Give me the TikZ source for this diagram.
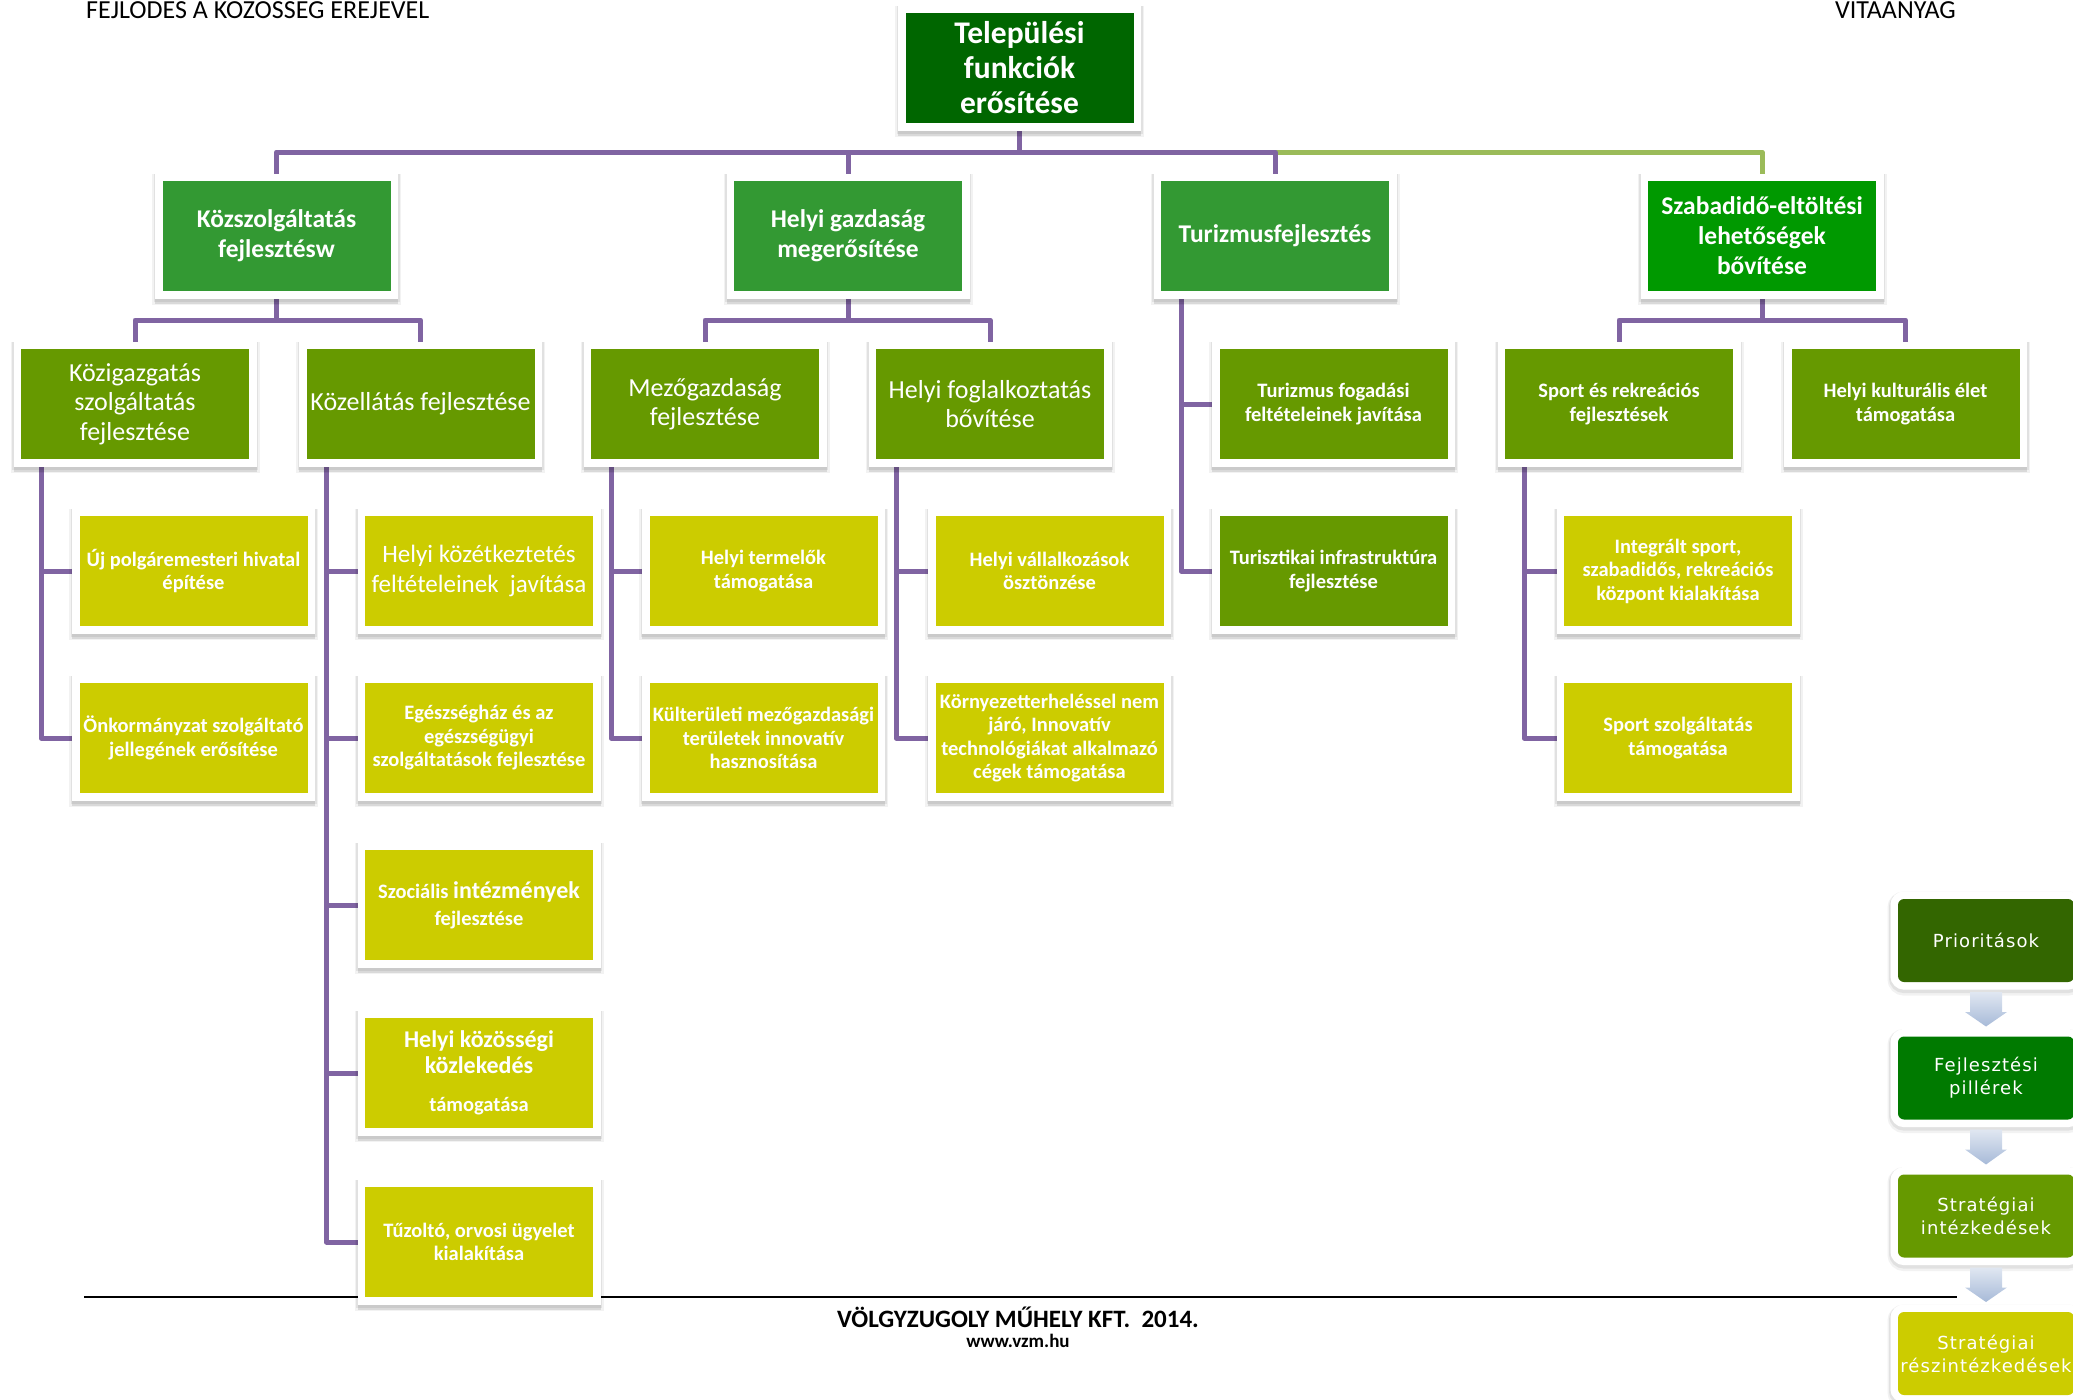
\documentclass[tikz,border=0pt]{standalone}
\usepackage{fontspec}
\setmainfont{Carlito}
\newfontfamily\legfont[LetterSpace=6]{DejaVu Sans}
\usetikzlibrary{backgrounds,calc}
\definecolor{topgreen}{HTML}{006600}
\definecolor{lvlone}{HTML}{339933}
\definecolor{lvloneb}{HTML}{009900}
\definecolor{lvltwo}{HTML}{669900}
\definecolor{lvlthree}{HTML}{CCCC00}
\definecolor{connpurple}{HTML}{8064A2}
\definecolor{conngreen}{HTML}{9BBB59}
\definecolor{legdark}{HTML}{336600}
\definecolor{legpillar}{HTML}{007A00}
\definecolor{arrowblue}{HTML}{A7BAD8}
\begin{document}
\begin{tikzpicture}[x=1pt,y=-1pt,
  card/.style={rectangle, minimum width=228pt, minimum height=110pt, inner sep=0pt, outer sep=0pt,
    text=white, align=center,
    preaction={draw=black, draw opacity=0.05, line width=21pt, transform canvas={yshift=-3pt}},
    preaction={draw=black, draw opacity=0.07, line width=18pt, transform canvas={yshift=-2pt}},
    preaction={draw=black, draw opacity=0.10, line width=15pt, transform canvas={yshift=-5pt}},
    preaction={draw=white, line width=15pt}},
  legbox/.style={rectangle, rounded corners=6pt, minimum width=176pt, minimum height=83pt, inner sep=0pt,
    outer sep=0pt, text=white, align=center, font=\legfont\fontsize{18}{23}\selectfont,
    preaction={draw=black, draw opacity=0.05, line width=21pt, transform canvas={yshift=-3pt}},
    preaction={draw=black, draw opacity=0.07, line width=18pt, transform canvas={yshift=-2pt}},
    preaction={draw=white, line width=15pt}},
  titlefont/.style={font=\fontsize{31.5}{35}\selectfont\bfseries},
  lonefont/.style={font=\fontsize{25.5}{30}\selectfont\bfseries},
  ltwofont/.style={font=\fontsize{26}{29.5}\selectfont},
  smallbold/.style={font=\fontsize{20.5}{23.5}\selectfont\bfseries},
  conn/.style={draw=connpurple, line width=5pt, line join=round},
  conng/.style={draw=conngreen, line width=5pt, line join=round},
  arrowfill/.style={top color=arrowblue!35!white, bottom color=arrowblue}
]
\useasboundingbox (0,0) rectangle (2073,1400);
\clip (0,0) rectangle (2073,1400);

% header / footer texts
\node[anchor=base west, inner sep=0pt, font=\fontsize{26}{30}\selectfont] (hdrl) at (86,18) {FEJLODES A KOZOSSEG EREJEVEL};
\node[anchor=base east, inner sep=0pt, font=\fontsize{26}{30}\selectfont] (hdrr) at (1956,18) {VITAANYAG};
\node[anchor=base, inner sep=0pt, font=\fontsize{25}{30}\selectfont\bfseries] (ftr) at (1018,1327) {VÖLGYZUGOLY MŰHELY KFT.~~2014.};
\node[anchor=base, inner sep=0pt, font=\fontsize{19}{22}\selectfont\bfseries] (web) at (1018,1347) {www.vzm.hu};

% top
\node[card, fill=topgreen, titlefont] (top) at (1019.5,68) {Települési\\funkciók\\erősítése};

% level 1
\node[card, fill=lvlone, lonefont] (kozsz) at (276.5,236) {Közszolgáltatás\\fejlesztésw};
\node[card, fill=lvlone, lonefont] (hgazd) at (848,236) {Helyi gazdaság\\megerősítése};
\node[card, fill=lvlone, lonefont] (tur) at (1275,236) {Turizmusfejlesztés};
\node[card, fill=lvloneb, lonefont] (szab) at (1762,236) {Szabadidő-eltöltési\\lehetőségek\\bővítése};

% level 2
\node[card, fill=lvltwo, ltwofont] (kozig) at (135,404) {Közigazgatás\\szolgáltatás\\fejlesztése};
\node[card, fill=lvltwo, ltwofont] (kozell) at (420.5,404) {Közellátás fejlesztése};
\node[card, fill=lvltwo, ltwofont] (mezo) at (705,404) {Mezőgazdaság\\fejlesztése};
\node[card, fill=lvltwo, ltwofont] (foglalk) at (990,404) {Helyi foglalkoztatás\\bővítése};
\node[card, fill=lvltwo, smallbold] (turfog) at (1333.5,404) {Turizmus fogadási\\feltételeinek javítása};
\node[card, fill=lvltwo, smallbold] (sport) at (1619,404) {Sport és rekreációs\\fejlesztések};
\node[card, fill=lvltwo, smallbold] (kult) at (1905.5,404) {Helyi kulturális élet\\támogatása};

% level 3
\node[card, fill=lvlthree, smallbold] (uj) at (193.5,571) {Új polgáremesteri hivatal\\építése};
\node[card, fill=lvlthree, smallbold] (onk) at (193.5,738) {Önkormányzat szolgáltató\\jellegének erősítése};
\node[card, fill=lvlthree, font=\fontsize{25}{30}\selectfont] (kozetk) at (479,571) {Helyi közétkeztetés\\feltételeinek~~javítása};
\node[card, fill=lvlthree, smallbold] (egesz) at (479,738) {Egészségház és az\\egészségügyi\\szolgáltatások fejlesztése};
\node[card, fill=lvlthree, font=\fontsize{20.5}{27}\selectfont\bfseries] (szoc) at (479,905) {Szociális {\fontsize{24}{27}\selectfont intézmények}\\fejlesztése};
\node[card, fill=lvlthree, font=\fontsize{24}{26}\selectfont\bfseries] (kozoss) at (479,1073) {Helyi közösségi\\közlekedés\\[12pt]{\fontsize{20.5}{26}\selectfont támogatása}};
\node[card, fill=lvlthree, smallbold] (tuzolto) at (479,1242) {Tűzoltó, orvosi ügyelet\\kialakítása};
\node[card, fill=lvlthree, smallbold] (termel) at (763.5,571) {Helyi termelők\\támogatása};
\node[card, fill=lvlthree, smallbold] (kulter) at (763.5,738) {Külterületi mezőgazdasági\\területek innovatív\\hasznosítása};
\node[card, fill=lvlthree, smallbold] (vallalk) at (1049.5,571) {Helyi vállalkozások\\ösztönzése};
\node[card, fill=lvlthree, smallbold] (kornyezet) at (1049.5,738) {Környezetterheléssel nem\\járó, Innovatív\\technológiákat alkalmazó\\cégek támogatása};
\node[card, fill=lvltwo, smallbold] (turinf) at (1333.5,571) {Turisztikai infrastruktúra\\fejlesztése};
\node[card, fill=lvlthree, smallbold] (integ) at (1678,571) {Integrált sport,\\szabadidős, rekreációs\\központ kialakítása};
\node[card, fill=lvlthree, smallbold] (sportsz) at (1678,738) {Sport szolgáltatás\\támogatása};

% legend
\node[legbox, fill=legdark] (leg1) at (1986,940.5) {Prioritások};
\node[legbox, fill=legpillar] (leg2) at (1986,1078) {Fejlesztési\\pillérek};
\node[legbox, fill=lvltwo] (leg3) at (1986,1216) {Stratégiai\\intézkedések};
\node[legbox, fill=lvlthree] (leg4) at (1986,1353.5) {Stratégiai\\részintézkedések};
\foreach \a/\b in {leg1/leg2, leg2/leg3, leg3/leg4}{
  \shade[arrowfill] ($(\a.south)+(-16,10)$) -- ($(\a.south)+(16,10)$) -- ($(\a.south)+(16,30)$)
    -- ($(\a.south)+(21,30)$) -- ($(\b.north)+(0,-10)$) -- ($(\a.south)+(-21,30)$)
    -- ($(\a.south)+(-16,30)$) -- cycle;
}

\begin{pgfonlayer}{background}
  \coordinate (bartop) at (0,152);
  \coordinate (barA) at (0,320);
  % footer rule
  \draw[line width=2pt] (84,1297) -- (1957,1297);
  % level 1
  \draw[conng] (tur.north |- bartop) -| (szab.north);
  \draw[conn] (top.south) -- (top.south |- bartop);
  \draw[conn] (kozsz.north) |- (tur.north |- bartop) -- (tur.north);
  \draw[conn] (hgazd.north) -- (hgazd.north |- bartop);
  % level 2
  \draw[conn] (kozsz.south) -- (kozsz.south |- barA);
  \draw[conn] (kozig.north) |- (barA -| kozell.north) -- (kozell.north);
  \draw[conn] (hgazd.south) -- (hgazd.south |- barA);
  \draw[conn] (mezo.north) |- (barA -| foglalk.north) -- (foglalk.north);
  \draw[conn] (szab.south) -- (szab.south |- barA);
  \draw[conn] (sport.north) |- (barA -| kult.north) -- (kult.north);
  % level 3
  \foreach \c in {uj, onk}{\draw[conn] ([xshift=20pt]kozig.south west) |- (\c.west);}
  \foreach \c in {kozetk, egesz, szoc, kozoss, tuzolto}{\draw[conn] ([xshift=20pt]kozell.south west) |- (\c.west);}
  \foreach \c in {termel, kulter}{\draw[conn] ([xshift=20pt]mezo.south west) |- (\c.west);}
  \foreach \c in {vallalk, kornyezet}{\draw[conn] ([xshift=20pt]foglalk.south west) |- (\c.west);}
  \foreach \c in {turfog, turinf}{\draw[conn] ([xshift=20pt]tur.south west) |- (\c.west);}
  \foreach \c in {integ, sportsz}{\draw[conn] ([xshift=19pt]sport.south west) |- (\c.west);}
\end{pgfonlayer}
\end{tikzpicture}
\end{document}
